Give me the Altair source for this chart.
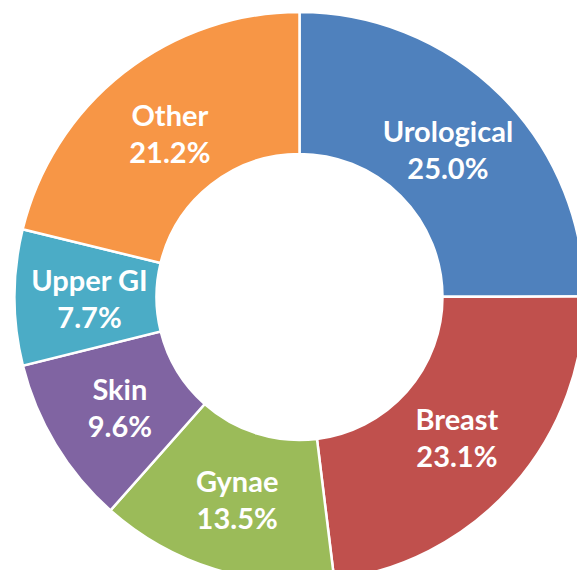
import altair as alt
import pandas as pd

categories = ["Urological", "Breast", "Gynae", "Skin", "Upper GI", "Other"]
values = [25.0, 23.1, 13.5, 9.6, 7.7, 21.2]
labels = ["25.0%", "23.1%", "13.5%", "9.6%", "7.7%", "21.2%"]
colors = ["#4F81BD", "#C0504D", "#9BBB59", "#8064A2", "#4BACC6", "#F79646"]

df = pd.DataFrame({
    "category": categories,
    "value": values,
    "pct": labels,
    "idx": list(range(len(categories))),
})
df["label"] = df["category"] + "\n" + df["pct"]

base = alt.Chart(df).encode(
    theta=alt.Theta("value:Q", stack=True),
    order=alt.Order("idx:Q"),
    x=alt.value(291.5),
    y=alt.value(289),
)

arc = base.mark_arc(outerRadius=285, innerRadius=143, stroke="white", strokeWidth=2.5).encode(
    color=alt.Color("category:N", scale=alt.Scale(domain=categories, range=colors), legend=None),
)

text = base.mark_text(
    radius=210, font="Lato", fontWeight="bold", fontSize=29, color="white",
    lineBreak="\n", lineHeight=37, align="center", baseline="middle", dy=-15,
).encode(text="label:N")

chart = alt.layer(arc, text).properties(
    width=569, height=562, padding=0, autosize=alt.AutoSizeParams(type="none")
).configure_view(stroke=None)

chart.save("out.html", embed_options={"renderer": "svg", "actions": False})
